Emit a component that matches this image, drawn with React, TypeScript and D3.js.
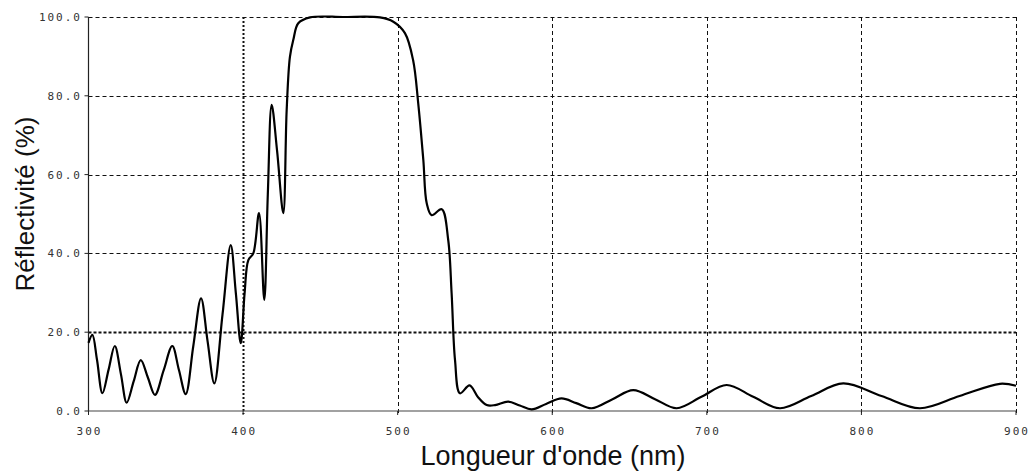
import React from "react";
import * as d3 from "d3";

const wavelengths: number[] = [
  300, 302.5, 305.5, 309, 313, 317, 321, 324.7, 329.2, 333.8, 338.4, 343, 348.6, 354.2, 358.5, 362.9,
  367.8, 372.8, 377, 381.4, 386.7, 392, 395.3, 398.5, 401, 403.4, 406.6, 410.3, 413.7, 416, 418.5,
  422, 426, 428.2, 430.3, 432.5, 435.7, 443.3, 464.8, 488.5, 497.2, 504.7, 510, 513.3, 516.6, 518.8,
  522, 528.5, 532.7, 534.9, 537.1, 540.3, 546.5, 552, 557.6, 563, 571.5, 579, 586.7, 596, 606, 615.5,
  625.5, 639, 652.4, 666.5, 680.5, 696.5, 712.8, 730, 747.3, 767.5, 788.2, 813, 837.8, 863.5, 889.6, 900,
];
const reflectivity: number[] = [
  17.3, 19.3, 13, 4.5, 10.5, 16.5, 9.3, 2.1, 7.5, 12.9, 8.5, 4.1, 10.3, 16.5, 10.4, 4.3,
  16.5, 28.6, 17.8, 7.0, 24.5, 42.1, 30, 17.2, 30, 38.3, 40, 50.2, 28.2, 55, 77.7,
  66, 50.2, 76.4, 89.9, 94.2, 98.4, 99.9, 100, 99.9, 98.8, 95.9, 89, 78.1, 63.7, 52.7,
  49.7, 51.2, 43.4, 29.9, 12.9, 4.5, 6.5, 3.5, 1.5, 1.5, 2.4, 1.4, 0.4, 1.8, 3.2, 2.0,
  0.7, 3.0, 5.3, 3.0, 0.7, 3.6, 6.6, 3.6, 0.7, 3.8, 7.0, 3.8, 0.7, 3.8, 6.9, 6.4,
];
const xTicks: number[] = [300, 400, 500, 600, 700, 800, 900];
const yTicks: number[] = [0, 20, 40, 60, 80, 100];
const xTitle = "Longueur d'onde (nm)";
const yTitle = "Réflectivité (%)";

const W = 1033;
const H = 472;
const left = 88.5;
const right = 1016;
const top = 17;
const bottom = 411;

export default function App() {
  const x = d3.scaleLinear().domain([300, 900]).range([left, right]);
  const y = d3.scaleLinear().domain([0, 100]).range([bottom, top]);
  const pts = wavelengths.map((w, i) => [w, reflectivity[i]] as [number, number]);
  const line = d3
    .line<[number, number]>()
    .x((d) => x(d[0]))
    .y((d) => y(d[1]))
    .curve(d3.curveCatmullRom.alpha(0.5));

  const labelFont = "'DejaVu Sans Mono', monospace";
  return (
    <svg
      width={W}
      height={H}
      style={{ position: "absolute", left: 0, top: 0, background: "#fff" }}
    >
      <rect x={0} y={0} width={W} height={H} fill="#fff" />
      {yTicks.filter((t) => t > 0).map((t) => (
        <line
          key={"hg" + t}
          x1={left}
          x2={right}
          y1={Math.round(y(t)) + 0.5}
          y2={Math.round(y(t)) + 0.5}
          stroke="#111"
          strokeWidth={t === 20 ? 2 : 1}
          strokeDasharray={t === 20 ? "3,2" : "4,3"}
        />
      ))}
      {xTicks.filter((t) => t > 300).map((t) => (
        <line
          key={"vg" + t}
          x1={Math.round(x(t)) + 0.5}
          x2={Math.round(x(t)) + 0.5}
          y1={top}
          y2={bottom + 3}
          stroke="#111"
          strokeWidth={t === 400 ? 2 : 1}
          strokeDasharray={t === 400 ? "2,2" : "4,3"}
        />
      ))}
      <line x1={left} x2={left} y1={top} y2={bottom} stroke="#222" strokeWidth={1.2} />
      <line x1={left} x2={right} y1={bottom} y2={bottom} stroke="#444" strokeWidth={1.2} />
      {yTicks.map((t) => (
        <g key={"yt" + t}>
          <line x1={left - 4} x2={left} y1={y(t)} y2={y(t)} stroke="#222" />
          <text
            x={82}
            y={y(t) + 4}
            textAnchor="end"
            fontFamily={labelFont}
            fontSize={11}
            letterSpacing={2}
            fill="#333"
          >
            {t.toFixed(1)}
          </text>
        </g>
      ))}
      {xTicks.map((t) => (
        <g key={"xt" + t}>
          <line x1={x(t)} x2={x(t)} y1={bottom} y2={bottom + 4} stroke="#222" />
          <text
            x={x(t) + 1}
            y={435}
            textAnchor="middle"
            fontFamily={labelFont}
            fontSize={11}
            letterSpacing={2}
            fill="#333"
          >
            {t}
          </text>
        </g>
      ))}
      <path d={line(pts) || ""} fill="none" stroke="#000" strokeWidth={2.2} strokeLinejoin="round" />
      <text
        x={553}
        y={465}
        textAnchor="middle"
        fontFamily="'Liberation Sans', Arial, sans-serif"
        fontSize={27}
        fill="#111"
      >
        {xTitle}
      </text>
      <text
        transform={`translate(34,204) rotate(-90)`}
        textAnchor="middle"
        fontFamily="'Liberation Sans', Arial, sans-serif"
        fontSize={26}
        fill="#111"
      >
        {yTitle}
      </text>
    </svg>
  );
}
